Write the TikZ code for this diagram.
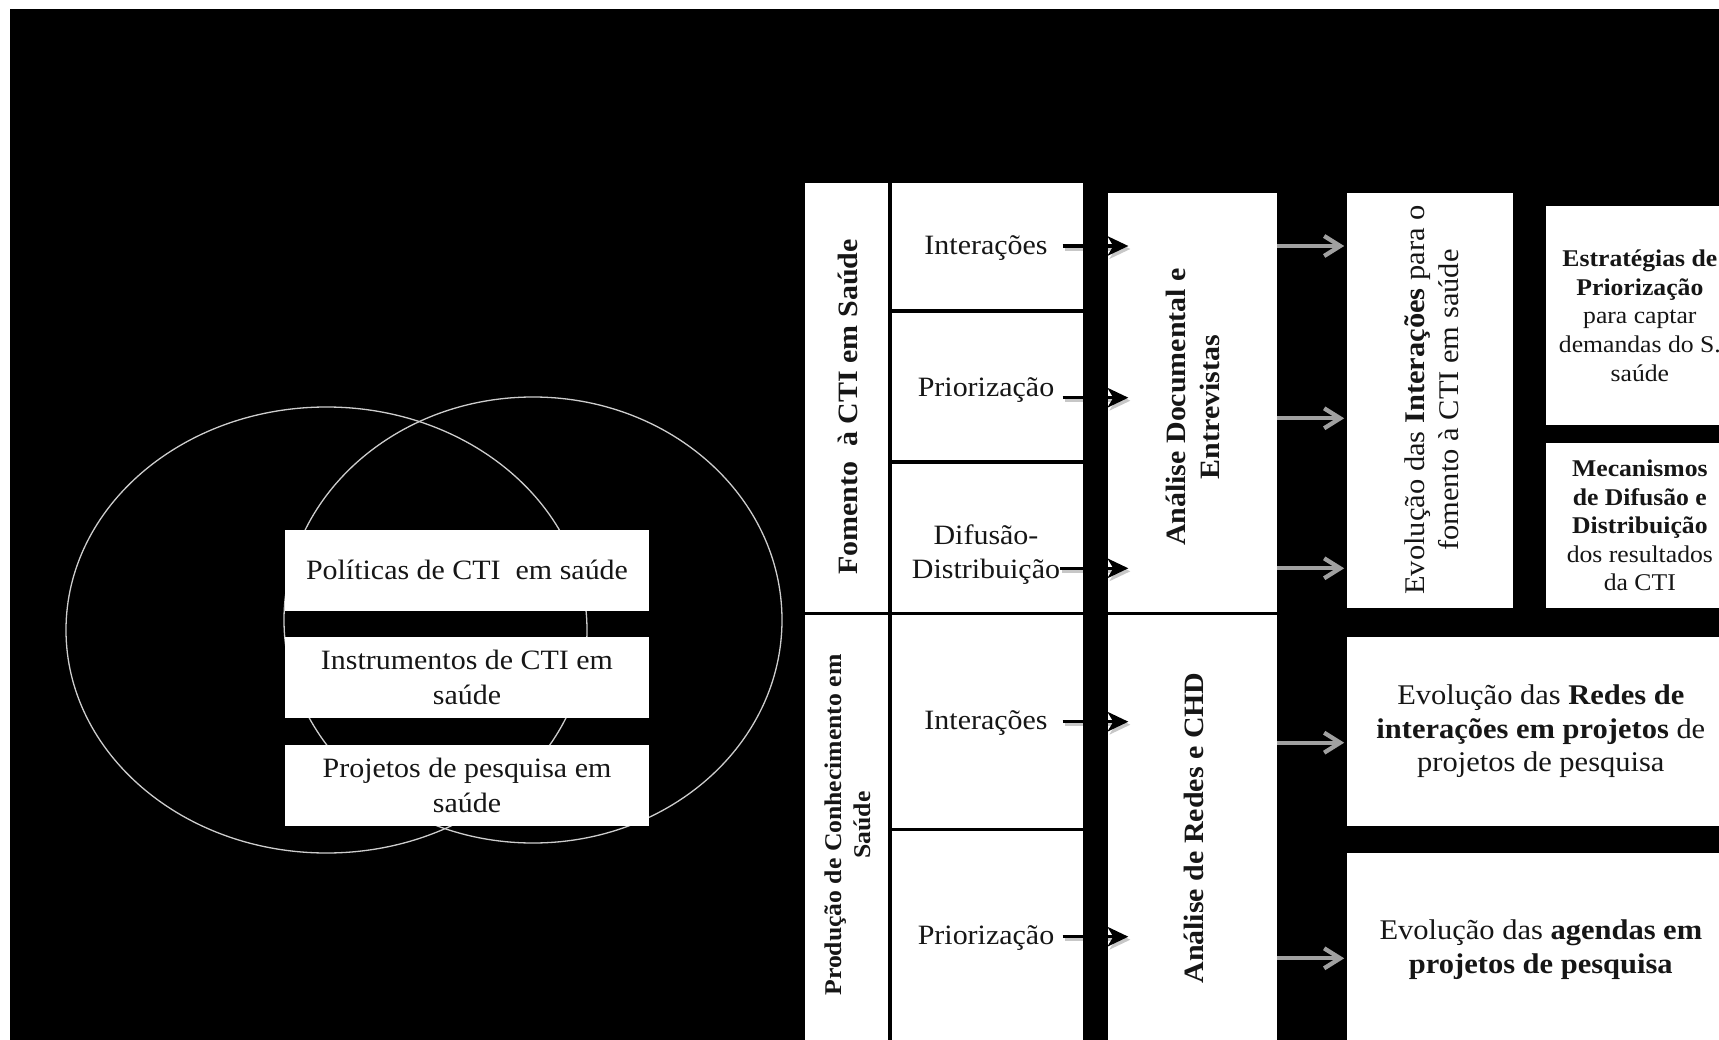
\documentclass[tikz,border=0pt]{standalone}
\usepackage{fontspec}
\setmainfont{Liberation Serif}[FakeStretch=1.07]
\usetikzlibrary{arrows.meta}
\definecolor{inkc}{RGB}{22,22,22}
\definecolor{ringc}{RGB}{205,205,205}
\definecolor{flowc}{RGB}{160,160,160}
\begin{document}
\begin{tikzpicture}[x=1pt,y=-1pt,
  wbox/.style={rectangle,fill=white,draw=none,inner sep=0pt,outer sep=0pt},
  lbl/.style={inner sep=0pt,outer sep=0pt,align=center,text=inkc,font=\fontsize{28}{34}\selectfont},
  vlbl/.style={lbl,rotate=90,font=\bfseries\fontsize{28}{34}\selectfont},
  ring/.style={draw=ringc,line width=1.3pt},
  blkarrow/.style={draw=black,line width=3.5pt,
    -{Stealth[length=21pt,width=20pt,inset=6pt,line width=0pt]},shorten >=-20pt},
  tipshade/.style={blkarrow,draw=black,opacity=0.22},
  flowarrow/.style={draw=flowc,line width=4.3pt,
    -{Straight Barb[length=16pt,width=20pt]},shorten >=2.5pt}
]
% page, margins and dark ground
\path[use as bounding box] (0,0) rectangle (1719,1040);
\clip (0,0) rectangle (1719,1040);
\fill[white] (0,0) rectangle (1719,1040);
\fill[black] (10,9) rectangle (1719,1040);

% overlapping rings behind the three policy boxes
\draw[ring] (326.5,630) ellipse [x radius=260.5pt, y radius=223pt];
\draw[ring] (533,620) ellipse [x radius=249pt, y radius=223pt];

% left stack
\node[wbox,lbl,minimum width=364pt,minimum height=81pt] (pol) at (467,570)
  {Políticas de CTI\ \ em saúde};
\node[wbox,lbl,font=\fontsize{28}{35}\selectfont,minimum width=364pt,minimum height=81.6pt] (inst) at (467,677.5)
  {Instrumentos de CTI em\\saúde};
\node[wbox,lbl,font=\fontsize{28}{35}\selectfont,minimum width=364pt,minimum height=81pt] (proj) at (467,785.5)
  {Projetos de pesquisa em\\saúde};

% dimension column
\node[wbox,minimum width=82.7pt,minimum height=428.2pt] (fom) at (846.35,397.6) {};
\node[wbox,minimum width=82.7pt,minimum height=430pt] (prod) at (846.35,830) {};
\node[vlbl] (tfom) at (848,407) {Fomento\ \ à CTI em Saúde};
\node[vlbl,font=\bfseries\fontsize{24}{29}\selectfont] (tprod) at (847.5,825)
  {Produção de Conhecimento em\\Saúde};

% category column
\node[wbox,minimum width=191pt,minimum height=125.8pt] (mi1) at (987.2,246.4) {};
\node[wbox,minimum width=191pt,minimum height=146.7pt] (mp1) at (987.2,386.65) {};
\node[wbox,minimum width=191pt,minimum height=147.7pt] (md) at (987.2,537.85) {};
\node[wbox,minimum width=191pt,minimum height=212.7pt] (mi2) at (987.2,721.35) {};
\node[wbox,minimum width=191pt,minimum height=214.3pt] (mp2) at (987.2,937.85) {};
\node[lbl] (ti1) at (986,248) {Interações};
\node[lbl] (tp1) at (986,390) {Priorização};
\node[lbl,font=\fontsize{28}{34}\selectfont] (tdf) at (986,555) {Difusão-\\Distribuição};
\node[lbl] (ti2) at (986,723) {Interações};
\node[lbl] (tp2) at (986,938) {Priorização};

% method column
\node[wbox,minimum width=169pt,minimum height=419pt] (andoc) at (1192.8,402.2) {};
\node[wbox,minimum width=169pt,minimum height=430pt] (anred) at (1192.8,830) {};
\node[vlbl] (tandoc) at (1192.5,407) {Análise Documental e\\Entrevistas};
\node[vlbl] (tanred) at (1194,828) {Análise de Redes e CHD};

% result column
\node[wbox,minimum width=166.6pt,minimum height=415.6pt] (evoint) at (1430,400.5) {};
\node[lbl,rotate=90,font=\fontsize{28.5}{34}\selectfont] (tevo) at (1431.5,400)
  {Evolução das \textbf{Interações} para o\\fomento à CTI em saúde};
\node[wbox,lbl,font=\fontsize{24}{28.7}\selectfont,minimum width=188.3pt,minimum height=219pt] (estr) at (1639.85,315.5)
  {\textbf{Estratégias de}\\\textbf{Priorização}\\para captar\\demandas do S.\\saúde};
\node[wbox,lbl,font=\fontsize{24}{28.5}\selectfont,minimum width=188.3pt,minimum height=165.6pt] (mec) at (1639.85,525.5)
  {\textbf{Mecanismos}\\\textbf{de Difusão e}\\\textbf{Distribuição}\\dos resultados\\da CTI};
\node[wbox,lbl,font=\fontsize{28.5}{33.5}\selectfont,minimum width=388.3pt,minimum height=189.3pt] (evored) at (1540.85,731.35)
  {Evolução das \textbf{Redes de}\\\textbf{interações em projetos} de\\projetos de pesquisa};
\node[wbox,lbl,font=\fontsize{28.5}{33.7}\selectfont,minimum width=388.3pt,minimum height=194.3pt] (evoag) at (1540.85,949.85)
  {Evolução das \textbf{agendas em}\\\textbf{projetos de pesquisa}};

% black arrows: categories into the methods
\coordinate (a1) at (1062.7,246);
\coordinate (a2) at (1062.7,397.7);
\coordinate (a3) at (1060,568.3);
\coordinate (a4) at (1062.7,721.7);
\coordinate (a5) at (1062.7,936.7);
\foreach \c in {a1,a2,a3}{
  \draw[tipshade,transform canvas={shift={(2pt,-3pt)}}] (\c) -- (\c -| andoc.west);
  \draw[blkarrow] (\c) -- (\c -| andoc.west);
}
\foreach \c in {a4,a5}{
  \draw[tipshade,transform canvas={shift={(2pt,-3pt)}}] (\c) -- (\c -| anred.west);
  \draw[blkarrow] (\c) -- (\c -| anred.west);
}

% grey arrows: methods into the results
\coordinate (g1) at (0,246);
\coordinate (g2) at (0,418.3);
\coordinate (g3) at (0,568.3);
\coordinate (g4) at (0,742.7);
\coordinate (g5) at (0,958.3);
\draw[flowarrow] (andoc.east |- g1) -- (evoint.west |- g1);
\draw[flowarrow] (andoc.east |- g2) -- (evoint.west |- g2);
\draw[flowarrow] (andoc.east |- g3) -- (evoint.west |- g3);
\draw[flowarrow] (anred.east |- g4) -- (evored.west |- g4);
\draw[flowarrow] (anred.east |- g5) -- (evoag.west |- g5);
\end{tikzpicture}
\end{document}
